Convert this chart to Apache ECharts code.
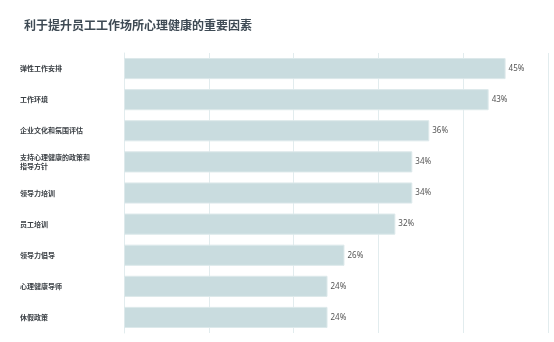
<!DOCTYPE html>
<html><head><meta charset="utf-8">
<script src="https://cdn.jsdelivr.net/npm/echarts@6/dist/echarts.min.js"></script>
<style>html,body{margin:0;padding:0;background:#fff}#c{width:554px;height:342px}</style>
</head><body><div id="c"></div>
<script>
const categories = ['弹性工作安排','工作环境','企业文化和氛围评估','支持心理健康的政策和\n指导方针','领导力培训','员工培训','领导力倡导','心理健康导师','休假政策'];
const values = [45,43,36,34,34,32,26,24,24];
const chart = echarts.init(document.getElementById('c'));
chart.setOption({
  animation:false,
  title:{text:'利于提升员工工作场所心理健康的重要因素',left:19,top:14,textStyle:{fontSize:12,fontWeight:'bold',color:'#3e4a54',fontFamily:'Noto Sans CJK SC'}},
  grid:{left:124,right:6,top:53,height:280,containLabel:false},
  xAxis:{type:'value',min:0,max:50,interval:10,axisLabel:{show:false},axisTick:{show:false},axisLine:{show:false},
    splitLine:{lineStyle:{color:'#e2ecee',width:1}}},
  yAxis:{type:'category',data:categories,inverse:true,axisTick:{show:false},
    axisLine:{show:true,lineStyle:{color:'#e2ecee'}},
    axisLabel:{align:'left',margin:104,fontSize:7,lineHeight:9,color:'#3a3f44',fontWeight:'bold',fontFamily:'Noto Sans CJK SC'}},
  series:[{type:'bar',data:values,barCategoryGap:'32%',
    itemStyle:{color:'#c9dcdf',borderColor:'#dde9eb',borderWidth:1},
    label:{show:true,position:'right',distance:3,formatter:'{c}%',fontSize:8,color:'#555',fontFamily:'Noto Sans'}}]
});
</script></body></html>
